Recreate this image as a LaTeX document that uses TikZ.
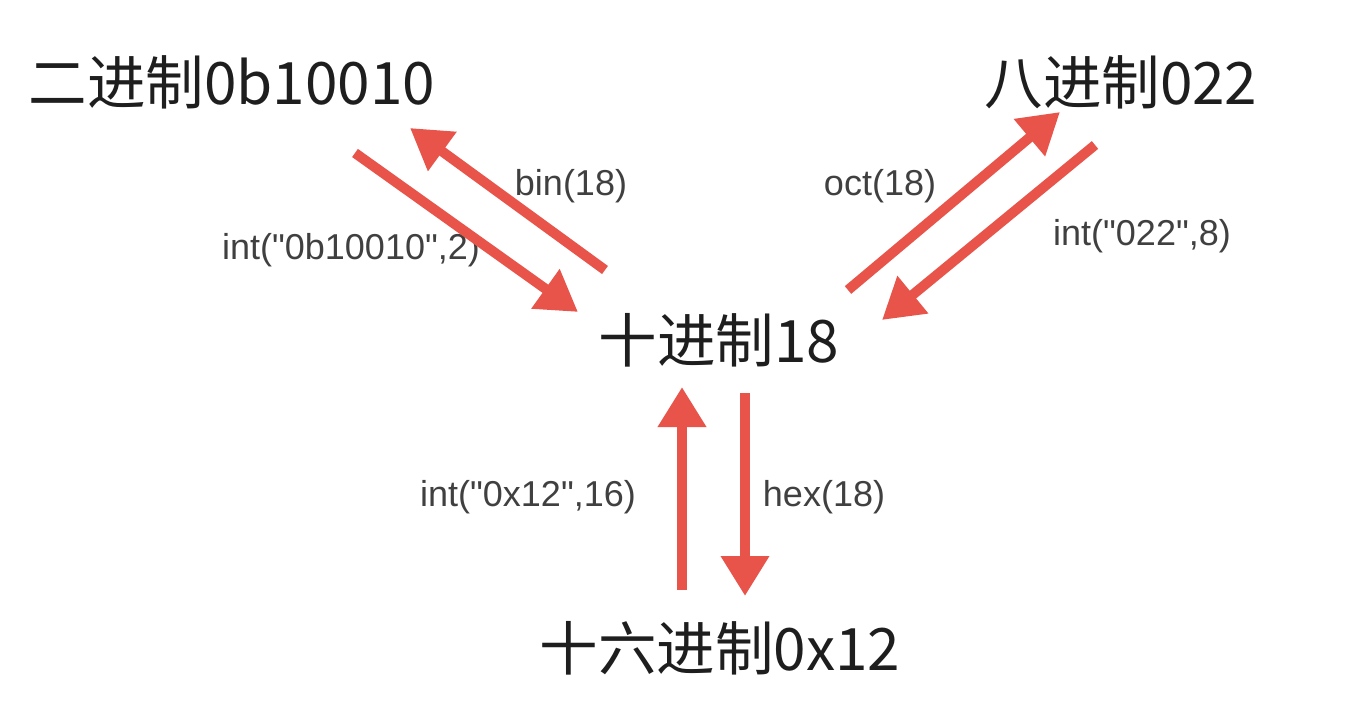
\documentclass[tikz,border=0pt]{standalone}
\usepackage{fontspec}
\setmainfont{Noto Sans CJK SC}
\newfontfamily\labfont{Liberation Sans}[Ligatures=TeXOff]
\usetikzlibrary{arrows.meta}
\definecolor{arr}{RGB}{232,84,74}
\definecolor{txt}{RGB}{30,30,30}
\begin{document}
\begin{tikzpicture}[x=1pt,y=-1pt,
  big/.style={font=\fontsize{58.5}{62}\selectfont, text=txt, inner sep=0pt},
  lab/.style={font=\labfont\fontsize{36}{40}\selectfont, text=txt!85, inner sep=0pt},
  conv/.style={draw=arr, line width=10pt, -{Triangle[width=46pt,length=40pt]}, fill=arr}]
\fill[white] (0,0) rectangle (1351,708);
\useasboundingbox (0,0) rectangle (1351,708);
\node[big] (bin) at (232,82) {二进制0b10010};
\node[big] (oct) at (1121,82) {八进制022};
\node[big] (dec) at (719,340) {十进制18};
\node[big] (hex) at (720,648) {十六进制0x12};
\node[lab] (lbin) at (571,186) {bin(18)};
\node[lab] (lintb) at (351,250) {int("0b10010",2)};
\node[lab] (loct) at (880,186) {oct(18)};
\node[lab] (linto) at (1142,236) {int("022",8)};
\node[lab] (linth) at (528,497) {int("0x12",16)};
\node[lab] (lhex) at (824,497) {hex(18)};
\coordinate (b1) at (605,270); \coordinate (b2) at (410,128);
\coordinate (c1) at (355,153); \coordinate (c2) at (578,312);
\coordinate (o1) at (848,290); \coordinate (o2) at (1060,112);
\coordinate (p1) at (1095,145); \coordinate (p2) at (882,320);
\coordinate (h1) at (682,590); \coordinate (h2) at (682,387);
\coordinate (x1) at (745,393); \coordinate (x2) at (745,596);
\draw[conv] (b1) -- (b2);
\draw[conv] (c1) -- (c2);
\draw[conv] (o1) -- (o2);
\draw[conv] (p1) -- (p2);
\draw[conv] (h1) -- (h2);
\draw[conv] (x1) -- (x2);
\end{tikzpicture}
\end{document}
